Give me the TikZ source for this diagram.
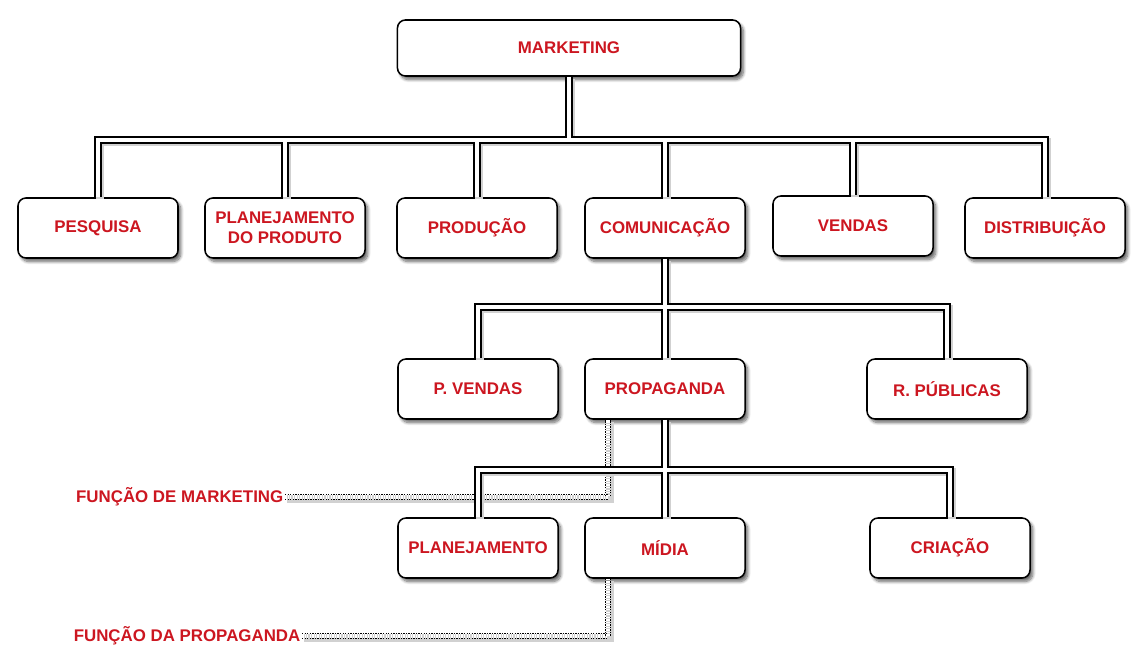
\documentclass[tikz,border=0pt]{standalone}
\usepackage{fontspec}
\setmainfont{Liberation Sans}
\usetikzlibrary{shadows.blur}
\definecolor{labelRed}{RGB}{204,22,32}
\tikzstyle{orgChart} = [x = 0.025cm, y = -0.025cm]
\tikzstyle{labelFont} = [text=labelRed, font=\fontsize{12}{14}\selectfont\bfseries]
\tikzstyle{orgBox} = [labelFont, draw=black, fill=white, line width=1.1pt, rounded corners=.2cm,
  minimum width=4cm, minimum height=1.5cm, align=center,
  blur shadow={shadow xshift=2pt, shadow yshift=-2.5pt, shadow blur steps=8, shadow blur extra rounding=1.5pt, shadow opacity=60}]
\tikzstyle{topBox} = [orgBox, minimum width=8.575cm, minimum height=1.4cm]
\tikzstyle{lineShadow} = [preaction={draw=black!18, line width=5.5pt, transform canvas={xshift=1.6pt, yshift=-1.6pt}}]
\tikzstyle{linkLine} = [lineShadow, draw=black, line width=.9pt, double=white, double distance=3.4pt]
\tikzstyle{noteLine} = [lineShadow, draw=black, line width=1pt, double=white, double distance=2.2pt, dash pattern=on 1pt off .8pt]
\tikzstyle{noteText} = [labelFont, inner sep=1pt]

\begin{document}
\begin{tikzpicture}[orgChart]
  \useasboundingbox (0,0) rectangle (1131,648);

  % top level
  \node [topBox] (mkt) at (569,48) {MARKETING};

  % first row
  \node [orgBox] (pesq) at (98,228) {PESQUISA};
  \node [orgBox] (plan) at (285,228) {PLANEJAMENTO\\DO PRODUTO};
  \node [orgBox] (prod) at (477,228) {PRODUÇÃO};
  \node [orgBox] (com) at (665,228) {COMUNICAÇÃO};
  \node [orgBox] (vend) at (853,226) {VENDAS};
  \node [orgBox] (dist) at (1045,228) {DISTRIBUIÇÃO};

  % second row
  \node [orgBox] (pvend) at (478,389) {P. VENDAS};
  \node [orgBox] (prop) at (665,389) {PROPAGANDA};
  \node [orgBox] (rpub) at (947,389) {R. PÚBLICAS};

  % third row
  \node [orgBox] (plj) at (478,548) {PLANEJAMENTO};
  \node [orgBox] (midia) at (665,548) {MÍDIA};
  \node [orgBox] (cri) at (950,548) {CRIAÇÃO};

  % notes
  \node [noteText, anchor=east] (fmkt) at (285,497) {FUNÇÃO DE MARKETING};
  \node [noteText, anchor=east] (fprop) at (302,636) {FUNÇÃO DA PROPAGANDA};

  \coordinate (barA) at (0,140);
  \coordinate (barB) at (0,307);
  \coordinate (barC) at (0,470);
  \coordinate (noteX) at (608,0);

  \draw [noteLine] (fmkt.east) -| (prop.south -| noteX);
  \draw [noteLine] (fprop.east) -| (midia.south -| noteX);

  \draw [linkLine] (pesq) -- (pesq |- barA) -- (dist |- barA) -- (dist)
    (mkt) -- (mkt |- barA)
    (plan) -- (plan |- barA) (prod) -- (prod |- barA)
    (com) -- (com |- barA) (vend) -- (vend |- barA);
  \draw [linkLine] (pvend) -- (pvend |- barB) -- (rpub |- barB) -- (rpub)
    (com) -- (prop);
  \draw [linkLine] (plj) -- (plj |- barC) -- (cri |- barC) -- (cri)
    (prop) -- (midia);
\end{tikzpicture}
\end{document}
